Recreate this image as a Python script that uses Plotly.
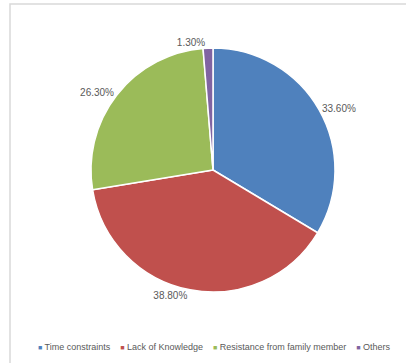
import plotly.graph_objects as go

categories = ["Time constraints", "Lack of Knowledge", "Resistance from family member", "Others"]
values = [33.6, 38.8, 26.3, 1.3]
value_labels = ["33.60%", "38.80%", "26.30%", "1.30%"]
colors = ["#4F81BD", "#C0504D", "#9BBB59", "#8064A2"]

W, H = 406, 363
cx, cy, r = 213, 193, 122

fig = go.Figure(go.Pie(
    labels=categories,
    values=values,
    text=value_labels,
    textinfo="text",
    textposition="outside",
    hoverinfo="label+percent",
    sort=False,
    direction="clockwise",
    rotation=0,
    showlegend=False,
    marker=dict(colors=colors, line=dict(color="white", width=1.5)),
    outsidetextfont=dict(size=10, color="#595959"),
    domain=dict(x=[(cx - r) / W, (cx + r) / W], y=[(cy - r) / H, (cy + r) / H]),
))

legend_text = "    ".join(
    f"<span style='color:{c};font-size:7px'>■</span> {name}" for name, c in zip(categories, colors)
)

fig.update_layout(
    width=W, height=H,
    margin=dict(l=0, r=0, t=0, b=0),
    paper_bgcolor="white",
    font=dict(family="Liberation Sans, Arial, sans-serif", color="#595959", size=10),
    annotations=[dict(text=legend_text, xref="paper", yref="paper", x=214 / W, y=(H - 347) / H,
                      xanchor="center", yanchor="middle", showarrow=False,
                      font=dict(size=9, color="#595959"))],
    shapes=[dict(type="rect", xref="paper", yref="paper", x0=10 / W, x1=1.05, y0=-0.05, y1=1 - 4 / H,
                 line=dict(color="#D9D9D9", width=1.5), fillcolor="rgba(0,0,0,0)")],
)

fig.write_html("out.html", config={"displayModeBar": False},
               post_script="document.body.style.margin='0';")
